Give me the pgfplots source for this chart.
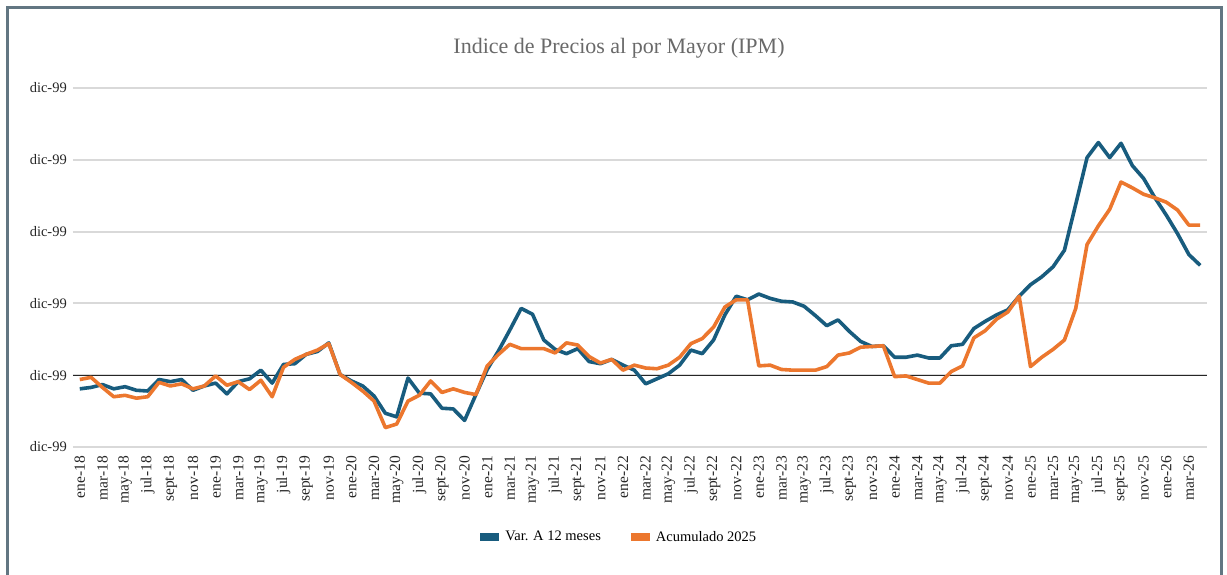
\documentclass[border=0pt]{standalone}
\usepackage{fontspec}
\setmainfont{Liberation Serif}
\usepackage{pgfplots}
\usepackage{pgfplotstable}
\pgfplotsset{compat=1.18}
\definecolor{ipmblue}{RGB}{24,92,126}
\definecolor{ipmorange}{RGB}{236,119,46}
\definecolor{framec}{RGB}{98,118,130}
\definecolor{gridc}{RGB}{217,217,217}
\definecolor{titlec}{RGB}{105,105,105}
\pgfplotstableread{
x y
0 -0.19
1 -0.17
2 -0.13
3 -0.19
4 -0.16
5 -0.21
6 -0.22
7 -0.06
8 -0.09
9 -0.06
10 -0.21
11 -0.15
12 -0.11
13 -0.26
14 -0.09
15 -0.05
16 0.07
17 -0.11
18 0.15
19 0.16
20 0.29
21 0.33
22 0.45
23 0.01
24 -0.08
25 -0.15
26 -0.29
27 -0.53
28 -0.58
29 -0.04
30 -0.25
31 -0.26
32 -0.46
33 -0.47
34 -0.63
35 -0.27
36 0.08
37 0.34
38 0.63
39 0.93
40 0.85
41 0.49
42 0.36
43 0.30
44 0.37
45 0.19
46 0.16
47 0.22
48 0.14
49 0.07
50 -0.12
51 -0.05
52 0.02
53 0.14
54 0.35
55 0.30
56 0.49
57 0.84
58 1.10
59 1.05
60 1.13
61 1.07
62 1.03
63 1.02
64 0.96
65 0.83
66 0.69
67 0.77
68 0.61
69 0.47
70 0.40
71 0.41
72 0.25
73 0.25
74 0.28
75 0.24
76 0.24
77 0.41
78 0.43
79 0.65
80 0.75
81 0.84
82 0.91
83 1.10
84 1.26
85 1.37
86 1.51
87 1.74
88 2.38
89 3.03
90 3.24
91 3.03
92 3.23
93 2.92
94 2.74
95 2.47
96 2.23
97 1.97
98 1.68
99 1.53
}\vardoce
\pgfplotstableread{
x y
0 -0.06
1 -0.03
2 -0.17
3 -0.30
4 -0.28
5 -0.32
6 -0.30
7 -0.10
8 -0.15
9 -0.12
10 -0.19
11 -0.15
12 -0.01
13 -0.14
14 -0.09
15 -0.20
16 -0.07
17 -0.30
18 0.11
19 0.22
20 0.29
21 0.35
22 0.44
23 0.01
24 -0.10
25 -0.22
26 -0.36
27 -0.73
28 -0.68
29 -0.36
30 -0.28
31 -0.08
32 -0.24
33 -0.19
34 -0.24
35 -0.27
36 0.13
37 0.29
38 0.43
39 0.37
40 0.37
41 0.37
42 0.31
43 0.45
44 0.42
45 0.26
46 0.17
47 0.22
48 0.07
49 0.14
50 0.10
51 0.09
52 0.14
53 0.25
54 0.44
55 0.51
56 0.67
57 0.95
58 1.05
59 1.05
60 0.13
61 0.14
62 0.08
63 0.07
64 0.07
65 0.07
66 0.12
67 0.28
68 0.31
69 0.39
70 0.40
71 0.41
72 -0.02
73 -0.01
74 -0.06
75 -0.11
76 -0.11
77 0.05
78 0.13
79 0.52
80 0.62
81 0.78
82 0.88
83 1.10
84 0.12
85 0.25
86 0.36
87 0.49
88 0.93
89 1.82
90 2.08
91 2.31
92 2.69
93 2.61
94 2.52
95 2.47
96 2.41
97 2.30
98 2.09
99 2.09
}\acumulado
\begin{document}
\begin{tikzpicture}
\path[use as bounding box] (0pt,0pt) rectangle (1227pt,574pt);
\draw[framec, line width=3pt] (7.5pt,-3pt) -- (7.5pt,566.5pt) -- (1221.5pt,566.5pt) -- (1221.5pt,-3pt);
\node[font=\fontsize{22}{26}\selectfont, text=titlec] at (619pt,526pt) {Indice de Precios al por Mayor (IPM)};
\begin{axis}[
  at={(73pt,127pt)}, anchor=south west,
  scale only axis, width=1134pt, height=359pt,
  xmin=-0.6, xmax=99.6, ymin=-1, ymax=4,
  axis line style={draw=none},
  major tick length=0pt,
  ytick={-1,0,1,2,3,4},
  yticklabels={dic-99,dic-99,dic-99,dic-99,dic-99,dic-99},
  ymajorgrids,
  major grid style={gridc, line width=2pt},
  extra y ticks={0},
  extra y tick labels={},
  extra y tick style={grid=major, major grid style={black!85, line width=1.3pt}},
  xtick={0,2,...,98},
  xticklabels={ene-18,mar-18,may-18,jul-18,sept-18,nov-18,
    ene-19,mar-19,may-19,jul-19,sept-19,nov-19,
    ene-20,mar-20,may-20,jul-20,sept-20,nov-20,
    ene-21,mar-21,may-21,jul-21,sept-21,nov-21,
    ene-22,mar-22,may-22,jul-22,sept-22,nov-22,
    ene-23,mar-23,may-23,jul-23,sept-23,nov-23,
    ene-24,mar-24,may-24,jul-24,sept-24,nov-24,
    ene-25,mar-25,may-25,jul-25,sept-25,nov-25,
    ene-26,mar-26},
  x tick label style={rotate=90, anchor=east, font=\fontsize{15.5}{17}\selectfont, text=black!85, inner sep=0pt},
  xticklabel shift=9pt,
  y tick label style={font=\fontsize{14.5}{16}\selectfont, text=black!85, inner sep=0pt},
  yticklabel shift=6pt,
  legend style={at={(0.48,-0.25)}, anchor=center, draw=none, fill=none,
    legend columns=2, font=\fontsize{14.5}{16}\selectfont,
    /tikz/every even column/.append style={column sep=24pt}},
  legend image code/.code={\draw[line width=8pt] (0pt,0pt) -- (19pt,0pt);},
]
\addplot[ipmblue, line width=3.6pt, line join=round] table[x=x,y=y] {\vardoce};
\addlegendentry{Var. A 12 meses}
\addplot[ipmorange, line width=3.6pt, line join=round] table[x=x,y=y] {\acumulado};
\addlegendentry{Acumulado 2025}
\end{axis}
\end{tikzpicture}
\end{document}
